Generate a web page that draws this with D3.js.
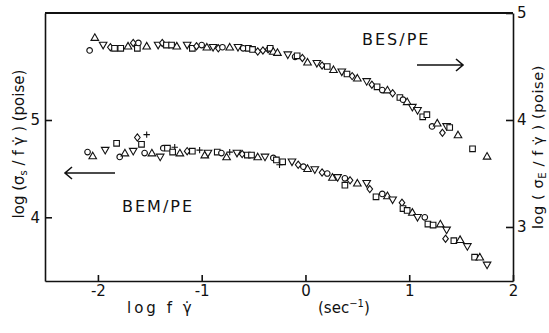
<!DOCTYPE html>
<html>
<head>
<style>
  body { margin: 0; background: #fff; }
  svg { display: block; }
  text { font-family: "DejaVu Sans", sans-serif; fill: #111; }
  .axis path, .axis line { stroke: #111; stroke-width: 1.6; }
  .axis text { font-size: 15px; }
  .mark { fill: #fff; stroke: #111; stroke-width: 1.1; }
</style>
</head>
<body>
<svg width="549" height="333"></svg>
<script src="https://d3js.org/d3.v7.min.js"></script>
<script>
// marker codes: o circle, t triangle up, v triangle down, s square, d diamond, p plus
// BES/PE (upper curve, right axis)
const besX = [-2.08,-2.03,-1.95,-1.88,-1.84,-1.78,-1.71,-1.66,-1.62,-1.61,-1.53,-1.42,-1.38,-1.34,-1.29,-1.24,-1.14,-1.09,-1.05,-1.00,-0.95,-0.89,-0.84,-0.80,-0.73,-0.65,-0.60,-0.55,-0.51,-0.46,-0.41,-0.36,-0.34,-0.31,-0.27,-0.17,-0.10,-0.08,-0.03,0.02,0.11,0.16,0.21,0.27,0.35,0.40,0.45,0.50,0.59,0.64,0.69,0.74,0.79,0.84,0.91,0.94,0.98,1.03,1.08,1.13,1.17,1.22,1.27,1.32,1.36,1.39,1.47,1.61,1.75];
const besY = [4.65,4.77,4.70,4.68,4.67,4.67,4.69,4.72,4.67,4.72,4.69,4.70,4.72,4.70,4.70,4.69,4.70,4.67,4.69,4.70,4.68,4.68,4.67,4.68,4.68,4.68,4.67,4.67,4.66,4.64,4.65,4.66,4.67,4.64,4.63,4.61,4.59,4.60,4.58,4.54,4.53,4.51,4.50,4.47,4.45,4.43,4.41,4.39,4.36,4.33,4.31,4.28,4.28,4.25,4.21,4.19,4.17,4.12,4.09,4.03,4.05,3.94,3.97,3.88,3.94,3.93,3.86,3.73,3.66];
const besM = "otvdsstdsotvdsstvsdotvdotvossdddsttvosdtvdstvsdtvdsotdsotvvssotdvstst";

// BEM/PE (lower curve, left axis)
const bemX = [-2.10,-2.05,-1.93,-1.82,-1.79,-1.74,-1.66,-1.62,-1.58,-1.53,-1.55,-1.48,-1.40,-1.37,-1.33,-1.26,-1.28,-1.21,-1.14,-1.09,-1.02,-0.97,-0.94,-0.85,-0.81,-0.73,-0.76,-0.66,-0.61,-0.56,-0.52,-0.46,-0.39,-0.31,-0.28,-0.25,-0.22,-0.13,-0.07,-0.02,0.02,0.09,0.16,0.21,0.26,0.31,0.38,0.38,0.43,0.50,0.59,0.62,0.68,0.74,0.79,0.84,0.93,0.94,0.98,1.03,1.08,1.15,1.18,1.23,1.30,1.36,1.35,1.43,1.49,1.56,1.63,1.68,1.75];
const bemY = [4.67,4.63,4.69,4.76,4.62,4.66,4.68,4.82,4.75,4.85,4.66,4.66,4.62,4.71,4.71,4.72,4.67,4.66,4.68,4.68,4.69,4.64,4.66,4.67,4.66,4.67,4.62,4.66,4.65,4.64,4.64,4.62,4.62,4.61,4.59,4.54,4.57,4.57,4.54,4.52,4.50,4.49,4.46,4.45,4.41,4.41,4.40,4.33,4.38,4.35,4.35,4.29,4.21,4.24,4.22,4.18,4.15,4.09,4.07,4.05,4.00,4.00,3.93,3.92,3.93,3.87,3.78,3.76,3.77,3.70,3.59,3.59,3.51];
const bemM = "otvsotvdspotvospstdsptvsoptvdsstvospsvdotvdotvosdtvdsotvdsstvosstvdstvstv";

const xTicks = [-2, -1, 0, 1, 2];
const leftTicks = [4, 5];
const rightTicks = [3, 4, 5];

const svg = d3.select("svg");
const L = 45, R = 513, T = 13, B = 281;

const x = d3.scaleLinear().domain([-2.51, 2]).range([L, R]);
const yL = d3.scaleLinear().domain([3.345, 6.10]).range([B, T]);
const yR = d3.scaleLinear().domain([2.495, 5]).range([B, T]);

// axes
svg.append("g").attr("class", "axis")
  .attr("transform", `translate(0,${B})`)
  .call(d3.axisBottom(x).tickValues(xTicks).tickFormat(d => d < 0 ? "-" + Math.abs(d) : d)
    .tickSizeInner(-6).tickSizeOuter(0).tickPadding(4));
svg.append("g").attr("class", "axis")
  .attr("transform", `translate(${L},0)`)
  .call(d3.axisLeft(yL).tickValues(leftTicks).tickFormat(d3.format("d"))
    .tickSizeInner(-7).tickSizeOuter(0).tickPadding(5));
svg.append("g").attr("class", "axis")
  .attr("transform", `translate(${R},0)`)
  .call(d3.axisRight(yR).tickValues(rightTicks).tickFormat(d3.format("d"))
    .tickSizeInner(-7).tickSizeOuter(0).tickPadding(4));
svg.selectAll(".axis .domain").attr("stroke-width", 1.8);
svg.selectAll(".axis text").attr("fill", "#111").attr("font-family", "DejaVu Sans").attr("font-size", 15);
// top border
svg.append("line").attr("x1", L).attr("x2", R).attr("y1", T).attr("y2", T)
  .attr("stroke", "#111").attr("stroke-width", 1.8);

// marker shapes
function markPath(m) {
  const s = 3.2;
  switch (m) {
    case "t": return `M0,${-s-0.6}L${s+0.6},${s-0.4}L${-s-0.6},${s-0.4}Z`;
    case "v": return `M0,${s+0.6}L${s+0.6},${-s+0.4}L${-s-0.6},${-s+0.4}Z`;
    case "s": return `M${-s+0.4},${-s+0.4}h${2*s-0.8}v${2*s-0.8}h${-2*s+0.8}Z`;
    case "d": return `M0,${-s-0.4}L${s-0.4},0L0,${s+0.4}L${-s+0.4},0Z`;
    case "p": return `M${-s},0H${s}M0,${-s}V${s}`;
    default: return d3.arc()({innerRadius: 0, outerRadius: s - 0.4, startAngle: 0, endAngle: 2 * Math.PI});
  }
}

function drawSeries(xs, ys, ms, yScale) {
  svg.append("g").selectAll("path")
    .data(xs.map((v, i) => ({x: v, y: ys[i], m: ms[i]})))
    .join("path")
    .attr("class", "mark")
    .attr("transform", d => `translate(${x(d.x)},${yScale(d.y)})`)
    .attr("d", d => markPath(d.m));
}
drawSeries(besX, besY, besM, yR);
drawSeries(bemX, bemY, bemM, yL);

// labels
svg.append("text").attr("x", 362).attr("y", 45).attr("font-size", 16)
  .attr("letter-spacing", 2).text("BES/PE");
svg.append("text").attr("x", 122).attr("y", 212).attr("font-size", 16)
  .attr("letter-spacing", 2).text("BEM/PE");

function arrow(x1, x2, y) {
  const dir = Math.sign(x2 - x1);
  svg.append("path")
    .attr("d", `M${x1},${y}H${x2}M${x2 - dir * 7},${y - 6}L${x2},${y}L${x2 - dir * 7},${y + 6}`)
    .attr("fill", "none").attr("stroke", "#111").attr("stroke-width", 1.6);
}
arrow(417, 463, 65);
arrow(115, 65, 173);

// axis titles
const lt = svg.append("text").attr("transform", "translate(24,144) rotate(-90)")
  .attr("text-anchor", "middle").attr("font-size", 15);
lt.append("tspan").text("log (σ");
lt.append("tspan").attr("font-size", 10).attr("dy", 3).text("s");
lt.append("tspan").attr("dy", -3).text(" / f γ̇ )      (poise)");

const rt = svg.append("text").attr("transform", "translate(543,147) rotate(-90)")
  .attr("text-anchor", "middle").attr("font-size", 14.5).attr("letter-spacing", 0.6);
rt.append("tspan").text("log ( σ");
rt.append("tspan").attr("font-size", 10).attr("dy", 3).text("E");
rt.append("tspan").attr("dy", -3).text(" / f γ̇ )    (poise)");

svg.append("text").attr("x", 127).attr("y", 313).attr("font-size", 15)
  .attr("letter-spacing", 3).text("log  f γ̇");
const st = svg.append("text").attr("x", 318).attr("y", 313).attr("font-size", 15);
st.append("tspan").text("(sec");
st.append("tspan").attr("font-size", 10).attr("dy", -6).text("−1");
st.append("tspan").attr("dy", 6).text(")");
</script>
</body>
</html>
